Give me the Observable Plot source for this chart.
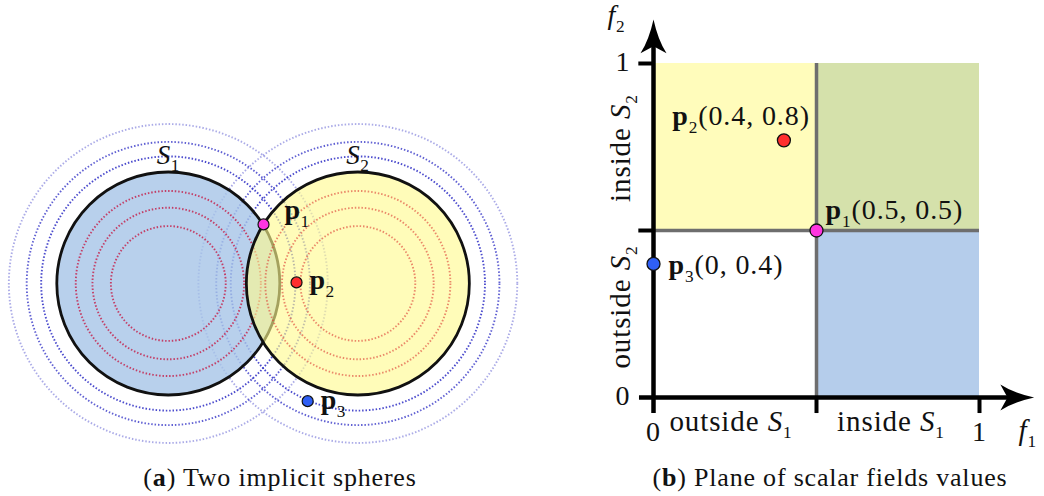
<!DOCTYPE html>
<html><head><meta charset="utf-8">
<script src="https://cdn.jsdelivr.net/npm/d3@7"></script>
<script src="https://cdn.jsdelivr.net/npm/@observablehq/plot@0.6"></script>
<style>
body{margin:0;background:#fff;font-family:"Liberation Serif",serif;color:#111;}
#wrap{display:flex;width:1044px;height:496px;overflow:hidden;}
.panel{position:relative;}
.cap{font-size:26px;letter-spacing:0.8px;height:36px;line-height:36px;white-space:nowrap;}
</style></head><body>
<div id="wrap">
  <div class="panel" id="a" style="width:560px"></div>
  <div class="panel" id="b" style="width:484px"></div>
</div>
<script>
// ---------- data: (a) two implicit spheres ----------
const sphereLabels = ["*S*_1", "*S*_2"];
const sphereCx = [0, 1.70];
const sphereCy = [0, 0];
const sphereR = [1, 1];
const insideLevels = [0.515, 0.68, 0.83];
const outsideLevels = [1.14, 1.27, 1.43];
const outsideAlpha = [0.85, 0.75, 0.4];
const pointLabels = ["**p**_1", "**p**_2", "**p**_3"];
const pointSpaceX = [0.854, 1.15, 1.25];
const pointSpaceY = [0.53, 0.01, -1.055];
const pointColors = ["#ff35e0", "#ff2e2e", "#2f5ff5"];
// ---------- data: (b) plane of scalar field values ----------
const pointF1 = [0.5, 0.4, 0];
const pointF2 = [0.5, 0.77, 0.4];
const pointValueText = ["(0.5, 0.5)", "(0.4, 0.8)", "(0, 0.4)"];
const threshold = 0.5;
const axisTicks = [0, 1];
const regionX1 = [0, 0.5, 0.5];
const regionX2 = [0.5, 1, 1];
const regionY1 = [0.5, 0.5, 0];
const regionY2 = [1, 1, 0.5];
const regionFill = ["#fffcbb", "#d5e1ab", "#b5cdeb"];
const regionLabelsX = ["outside *S*_1", "inside *S*_1"];
const regionLabelsY = ["outside *S*_2", "inside *S*_2"];

// ---------- helpers ----------
const SVGNS = "http://www.w3.org/2000/svg";
function parseMarkup(s){
  const out=[]; let i=0;
  while(i<s.length){
    let sub=false;
    if(s[i]==="_"){sub=true;i++;}
    let bold=false, ital=false, txt;
    if(s.startsWith("**",i)){const j=s.indexOf("**",i+2); txt=s.slice(i+2,j); bold=true; i=j+2;}
    else if(s[i]==="*"){const j=s.indexOf("*",i+1); txt=s.slice(i+1,j); ital=true; i=j+1;}
    else if(sub){txt=s[i]; i++;}
    else {let j=i; while(j<s.length && s[j]!=="_" && s[j]!=="*") j++; txt=s.slice(i,j); i=j;}
    out.push({txt,sub,bold,ital});
  }
  return out;
}
function richify(svg){
  svg.querySelectorAll("text").forEach(t=>{
    const targets = t.querySelectorAll("tspan").length ? Array.from(t.querySelectorAll("tspan")) : [t];
    targets.forEach(el=>{
      const s = el.textContent;
      if(!/[*_]/.test(s)) return;
      const fs = parseFloat(getComputedStyle(el).fontSize) || 24;
      const shift = 0.32*fs;
      el.textContent = "";
      let inSub=false;
      parseMarkup(s).forEach(seg=>{
        const ts=document.createElementNS(SVGNS,"tspan");
        ts.textContent=seg.txt;
        if(seg.bold) ts.setAttribute("font-weight","bold");
        if(seg.ital) ts.setAttribute("font-style","italic");
        if(seg.sub){ ts.setAttribute("font-size",(0.72*fs)+"px"); if(!inSub) ts.setAttribute("dy",shift); inSub=true; }
        else if(inSub){ ts.setAttribute("dy",-shift); inSub=false; }
        el.appendChild(ts);
      });
    });
  });
}

// ---------- (a) ----------
const spheres = sphereCx.map((cx,i)=>({name:sphereLabels[i], cx, cy:sphereCy[i], r:sphereR[i], i}));
const outerRings = [], innerRings = [];
spheres.forEach(s=>{
  outsideLevels.forEach((lv,j)=>outerRings.push({cx:s.cx, cy:s.cy, r:lv, a:outsideAlpha[j], i:s.i}));
  insideLevels.forEach(lv=>innerRings.push({cx:s.cx, cy:s.cy, r:lv, i:s.i}));
});
const pts = pointLabels.map((l,i)=>({label:l, x:pointSpaceX[i], y:pointSpaceY[i], f1:pointF1[i], f2:pointF2[i], color:pointColors[i], val:pointValueText[i]}));

const W1=560, H1=460, k=111.5;
const xDom=[-167.8/k, (W1-167.8)/k];
const yDom=[-(H1-283)/k, 283/k];
const dash="1.5 1.9";
const ringOpts = {x:"cx", y:"cy", r:"r", fill:"none", strokeWidth:1.9, strokeDasharray:dash};
const font = "Liberation Serif";

const left = Plot.plot({
  width:W1, height:H1, margin:0,
  x:{domain:xDom, axis:null}, y:{domain:yDom, axis:null},
  r:{type:"linear", domain:[0,1], range:[0,k]},
  opacity:{type:"identity"}, color:{type:"identity"},
  style:{fontFamily:font, fontSize:"26px", color:"#111", background:"transparent", overflow:"visible", letterSpacing:"0.5px"},
  marks:[
    Plot.dot(outerRings, {...ringOpts, stroke:"#2c2cc4", strokeOpacity:"a"}),
    Plot.dot(spheres.filter(d=>d.i===0), {x:"cx", y:"cy", r:"r", fill:"#a6c4e7", fillOpacity:0.8}),
    Plot.dot(innerRings.filter(d=>d.i===0), {...ringOpts, stroke:"#c42650", strokeOpacity:0.85}),
    Plot.dot(spheres.filter(d=>d.i===0), {x:"cx", y:"cy", r:"r", fill:"none", stroke:"#111", strokeWidth:2.8}),
    Plot.dot(spheres.filter(d=>d.i===1), {x:"cx", y:"cy", r:"r", fill:"#fffa8e", fillOpacity:0.62}),
    Plot.dot(innerRings.filter(d=>d.i===1), {...ringOpts, stroke:"#dc3c34", strokeOpacity:0.6}),
    Plot.dot(spheres.filter(d=>d.i===1), {x:"cx", y:"cy", r:"r", fill:"none", stroke:"#111", strokeWidth:2.8}),
    Plot.text(spheres, {x:"cx", y:d=>d.cy+d.r, dy:-17, text:"name", fontSize:27}),
    Plot.dot(pts, {x:"x", y:"y", r:5.5, fill:"color", stroke:"#111", strokeWidth:1.2}),
    Plot.text(pts.slice(0,1), {x:"x", y:"y", text:"label", textAnchor:"start", dx:21, dy:-14, fontSize:28}),
    Plot.text(pts.slice(1,2), {x:"x", y:"y", text:"label", textAnchor:"start", dx:13, dy:-2, fontSize:28}),
    Plot.text(pts.slice(2,3), {x:"x", y:"y", text:"label", textAnchor:"start", dx:13, dy:-1, fontSize:28})
  ]
});
richify(left);
document.getElementById("a").appendChild(left);
const capA=document.createElement("div"); capA.className="cap"; capA.style.textAlign="center";
capA.innerHTML="(<b>a</b>) Two implicit spheres";
document.getElementById("a").appendChild(capA);

// ---------- (b) ----------
const regions = regionX1.map((x1,i)=>({x1, x2:regionX2[i], y1:regionY1[i], y2:regionY2[i], fill:regionFill[i]}));
const stealth = {draw(ctx,size){
  const r=Math.sqrt(size/Math.PI);
  ctx.moveTo(0,-1.3*r);
  ctx.quadraticCurveTo(0.35*r,0.3*r,r,1.3*r);
  ctx.lineTo(0,0.75*r);
  ctx.lineTo(-r,1.3*r);
  ctx.quadraticCurveTo(-0.35*r,0.3*r,0,-1.3*r);
  ctx.closePath();
}};
const xTip=1.168, yTip=1.132;
const right = Plot.plot({
  width:484, height:H1, marginLeft:93, marginRight:65, marginTop:63, marginBottom:63,
  x:{domain:[0,1], axis:null}, y:{domain:[0,1], axis:null},
  color:{type:"identity"},
  style:{fontFamily:font, fontSize:"29px", color:"#111", background:"transparent", overflow:"visible", letterSpacing:"0.9px"},
  marks:[
    Plot.rect(regions, {x1:"x1", x2:"x2", y1:"y1", y2:"y2", fill:"fill"}),
    Plot.ruleX([threshold], {y1:0, y2:1, stroke:"#6e6e6e", strokeWidth:3.5}),
    Plot.ruleY([threshold], {x1:0, x2:1, stroke:"#6e6e6e", strokeWidth:3.5}),
    Plot.ruleX([threshold, 1], {y1:-0.048, y2:0, stroke:"#000", strokeWidth:4}),
    Plot.ruleY([threshold, 1], {x1:-0.045, x2:0, stroke:"#000", strokeWidth:4}),
    Plot.ruleY([0], {x1:-0.043, x2:xTip-0.05, stroke:"#000", strokeWidth:4.5}),
    Plot.ruleX([0], {y1:-0.048, y2:yTip-0.05, stroke:"#000", strokeWidth:4.5}),
    Plot.dot([0], {x:()=>xTip, y:0, r:13, symbol:stealth, rotate:90, dx:-17, fill:"#000", stroke:"none"}),
    Plot.dot([0], {x:0, y:()=>yTip, r:13, symbol:stealth, dy:17, fill:"#000", stroke:"none"}),
    Plot.text(axisTicks, {x:d=>d, y:0, dy:35, text:d=>String(d), fontSize:28}),
    Plot.text(axisTicks, {x:0, y:d=>d, dx:-23, dy:-1, textAnchor:"end", text:d=>String(d), fontSize:28}),
    Plot.text(["*f*_1"], {x:()=>xTip-0.02, y:0, dy:33, text:d=>d, fontSize:29}),
    Plot.text(["*f*_2"], {x:0, y:()=>yTip, dx:-37, dy:-4, text:d=>d, fontSize:28}),
    Plot.text(regionLabelsX.slice(0,1), {x:threshold/2, y:0, dx:-4, dy:24, text:d=>d, fontSize:29}),
    Plot.text(regionLabelsX.slice(1,2), {x:(1+threshold)/2, y:0, dx:-7, dy:24, text:d=>d, fontSize:29}),
    Plot.text(regionLabelsY.slice(0,1), {x:0, y:threshold/2, dx:-33, dy:-7, rotate:-90, text:d=>d, fontSize:29}),
    Plot.text(regionLabelsY.slice(1,2), {x:0, y:(1+threshold)/2, dx:-33, dy:1, rotate:-90, text:d=>d, fontSize:29}),
    Plot.dot(pts, {x:"f1", y:"f2", r:6.5, fill:"color", stroke:"#111", strokeWidth:1.3}),
    Plot.text(pts.slice(0,1), {x:"f1", y:"f2", text:d=>d.label+d.val, textAnchor:"start", dx:9, dy:-20, fontSize:28}),
    Plot.text(pts.slice(1,2), {x:"f1", y:"f2", text:d=>d.label+d.val, textAnchor:"end", dx:26, dy:-24, fontSize:28}),
    Plot.text(pts.slice(2,3), {x:"f1", y:"f2", text:d=>d.label+d.val, textAnchor:"start", dx:15, dy:1, fontSize:28})
  ]
});
richify(right);
document.getElementById("b").appendChild(right);
const capB=document.createElement("div"); capB.className="cap"; capB.style.paddingLeft="56px"; capB.style.textAlign="center";
capB.innerHTML="(<b>b</b>) Plane of scalar fields values";
document.getElementById("b").appendChild(capB);
</script>
</body></html>
